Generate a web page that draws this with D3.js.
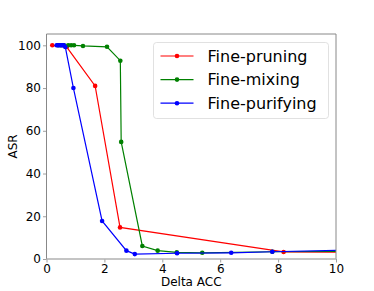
<!DOCTYPE html>
<html>
<head>
<meta charset="utf-8">
<script src="https://cdn.jsdelivr.net/npm/d3@7"></script>
<style>
  body { margin: 0; background: #fff; }
  text { font-family: "DejaVu Sans", sans-serif; }
</style>
</head>
<body>
<svg id="chart" width="374" height="291"></svg>
<script>
// Fine-pruning
const pruneX = [0.2, 0.7, 1.68, 2.54, 8.19, 10.4];
const pruneY = [100, 99.2, 81, 14.8, 3.3, 3.2];
// Fine-mixing
const mixX = [0.4, 0.5, 0.6, 0.75, 0.85, 0.95, 1.26, 2.09, 2.55, 2.58, 3.31, 3.84, 4.5, 5.38, 7.8, 10.4];
const mixY = [100, 100, 100, 100, 100, 100, 99.7, 99.3, 92.8, 54.8, 6.1, 3.9, 3.1, 2.9, 3.4, 3.6];
// Fine-purifying
const purX = [0.35, 0.4, 0.45, 0.5, 0.55, 0.6, 0.65, 0.93, 1.92, 2.76, 3.05, 4.51, 6.38, 7.8, 10.4];
const purY = [100, 100, 100, 100, 100, 100, 99.2, 80, 17.8, 3.9, 2.3, 2.7, 2.9, 3.4, 4.1];

const xTicks = [0, 2, 4, 6, 8, 10];
const yTicks = [0, 20, 40, 60, 80, 100];

const seriesNames = ["Fine-pruning", "Fine-mixing", "Fine-purifying"];
const seriesColors = ["#ff0000", "#008000", "#0000ff"];

const svg = d3.select("#chart");
const margin = { top: 34, right: 38, bottom: 32, left: 46.5 };
const width = +svg.attr("width"), height = +svg.attr("height");
const innerWidth = width - margin.left - margin.right;
const innerHeight = height - margin.top - margin.bottom;

const x = d3.scaleLinear().domain([0, 10]).range([0, innerWidth]);
const y = d3.scaleLinear().domain([0, 105.3]).range([innerHeight, 0]);

const g = svg.append("g").attr("transform", `translate(${margin.left},${margin.top})`);

svg.append("defs").append("clipPath").attr("id", "clip")
  .append("rect").attr("width", innerWidth).attr("height", innerHeight);

const series = [
  { name: seriesNames[0], color: seriesColors[0], pts: pruneX.map((v, i) => [v, pruneY[i]]) },
  { name: seriesNames[1], color: seriesColors[1], pts: mixX.map((v, i) => [v, mixY[i]]) },
  { name: seriesNames[2], color: seriesColors[2], pts: purX.map((v, i) => [v, purY[i]]) }
];

const line = d3.line().x(d => x(d[0])).y(d => y(d[1]));
const plot = g.append("g").attr("clip-path", "url(#clip)");

series.forEach(s => {
  plot.append("path").datum(s.pts)
    .attr("fill", "none").attr("stroke", s.color).attr("stroke-width", 1.2)
    .attr("d", line);
  plot.selectAll(null).data(s.pts.filter(d => d[0] <= 10)).enter().append("circle")
    .attr("cx", d => x(d[0])).attr("cy", d => y(d[1])).attr("r", 2.3)
    .attr("fill", s.color);
});

// axes
const xAxis = g.append("g").attr("transform", `translate(0,${innerHeight})`)
  .call(d3.axisBottom(x).tickValues(xTicks).tickSize(3.5).tickPadding(2));
const yAxis = g.append("g")
  .call(d3.axisLeft(y).tickValues(yTicks).tickSize(3.5).tickPadding(2));
[xAxis, yAxis].forEach(a => {
  a.select(".domain").remove();
  a.selectAll("text").attr("font-size", 12).attr("fill", "#000");
  a.selectAll("line").attr("stroke", "#888").attr("stroke-width", 0.8);
});

// frame: gray spines, bottom one lighter
g.append("path").attr("d", `M0,${innerHeight}V0H${innerWidth}V${innerHeight}`)
  .attr("fill", "none").attr("stroke", "#888").attr("stroke-width", 1);
g.append("line").attr("x1", 0).attr("x2", innerWidth).attr("y1", innerHeight).attr("y2", innerHeight)
  .attr("stroke", "#b0b0b0").attr("stroke-width", 1.5);

svg.append("text").attr("x", margin.left + innerWidth / 2).attr("y", 286)
  .attr("text-anchor", "middle").attr("font-size", 12).text("Delta ACC");
svg.append("text").attr("transform", `translate(16.5,${margin.top + innerHeight / 2}) rotate(-90)`)
  .attr("text-anchor", "middle").attr("font-size", 12).text("ASR");

// legend
const legend = svg.append("g").attr("transform", "translate(153.5,42.5)");
legend.append("rect").attr("width", 175).attr("height", 76).attr("rx", 3)
  .attr("fill", "#fff").attr("fill-opacity", 0.8)
  .attr("stroke", "#d9d9d9").attr("stroke-width", 0.8);
series.forEach((s, i) => {
  const ly = 13.5 + i * 23.6;
  legend.append("line").attr("x1", 7).attr("x2", 40).attr("y1", ly).attr("y2", ly)
    .attr("stroke", s.color).attr("stroke-width", 1.2);
  legend.append("circle").attr("cx", 23.5).attr("cy", ly).attr("r", 2.3).attr("fill", s.color);
  legend.append("text").attr("x", 54).attr("y", ly + 5.8)
    .attr("font-size", 16).attr("fill", "#000").text(s.name);
});
</script>
</body>
</html>
